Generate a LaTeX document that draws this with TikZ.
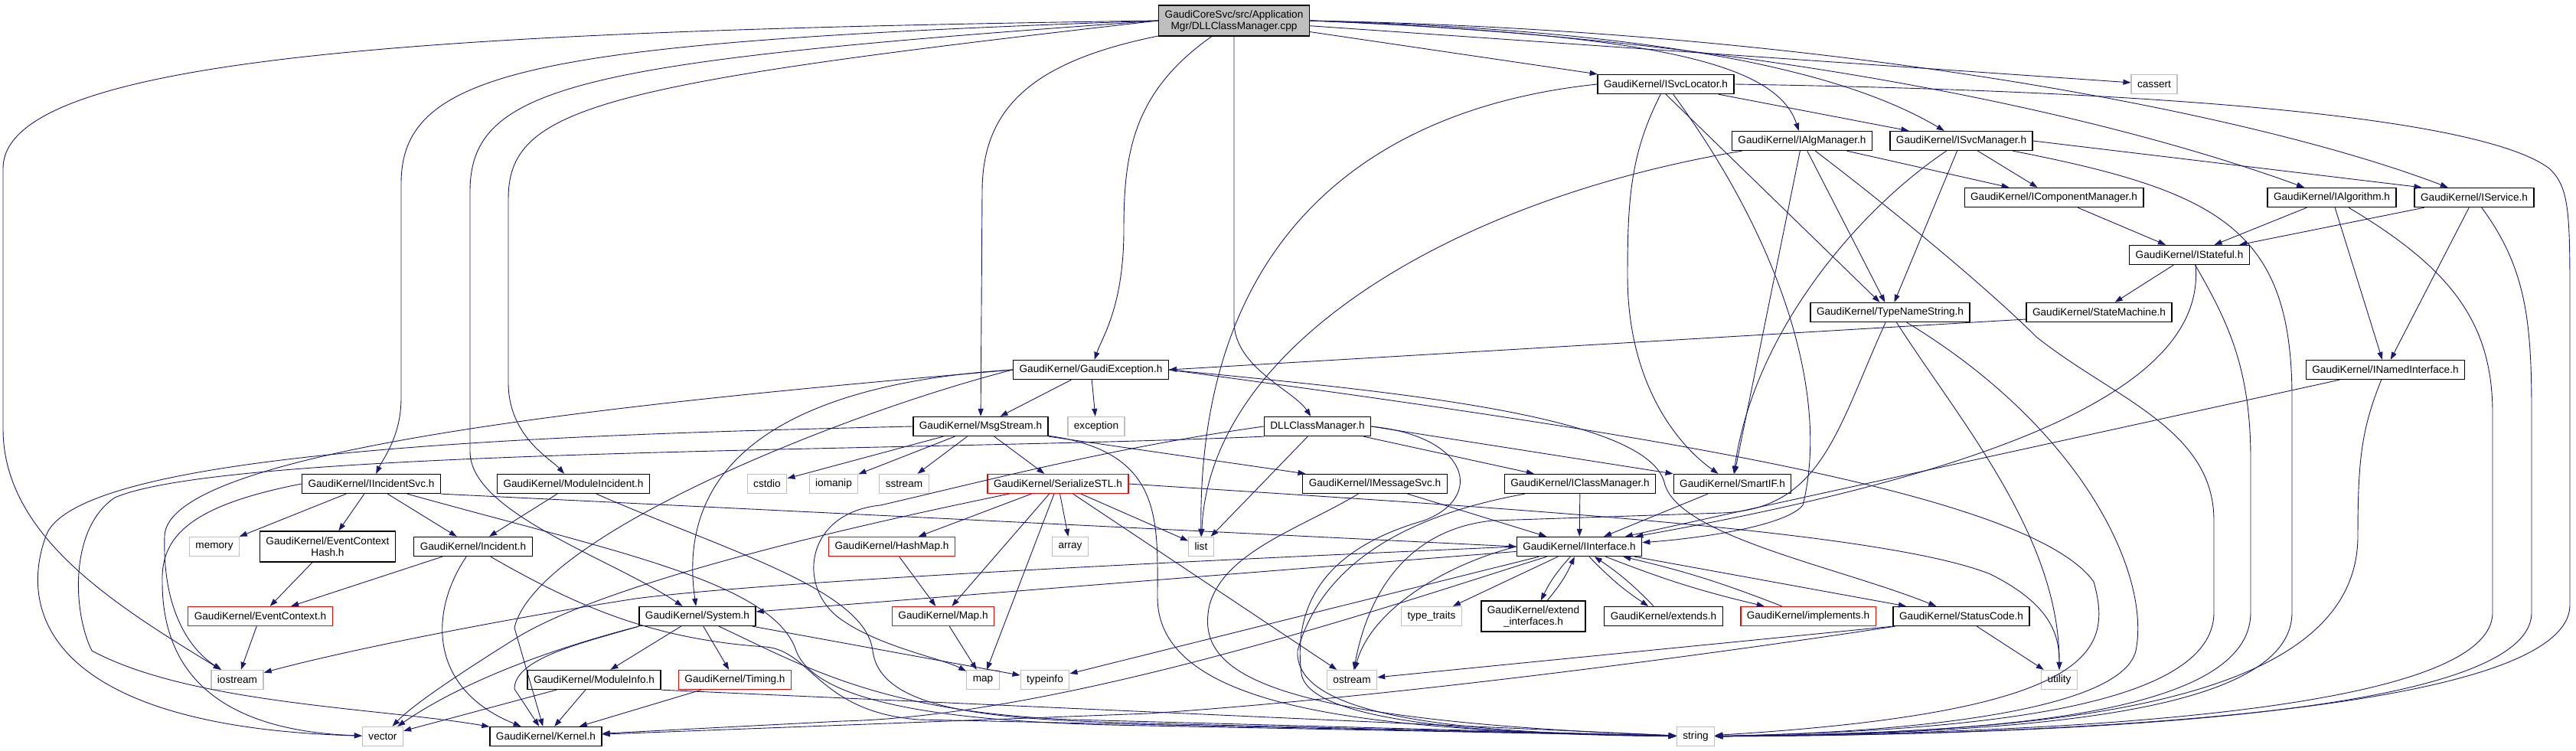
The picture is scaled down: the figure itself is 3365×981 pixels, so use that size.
\documentclass[tikz,border=0pt]{standalone}
\usepackage{fontspec}
\setmainfont{Liberation Sans}
\usetikzlibrary{arrows.meta}
\definecolor{edgeBlue}{HTML}{191970}
\definecolor{sysGray}{HTML}{BFBFBF}
\definecolor{cutRed}{HTML}{FF0000}
\tikzset{
  every node/.style={font=\fontsize{13.6}{15}\selectfont},
  hdr/.style={draw=black, line width=1.3pt, fill=white, minimum height=25pt,
              inner xsep=8pt, inner ysep=2pt, align=center},
  hdrRed/.style={hdr, draw=cutRed},
  hdrSys/.style={hdr, draw=sysGray},
  hdrTwo/.style={hdr, minimum height=40pt},
  hdrMain/.style={hdrTwo, fill=sysGray},
  arr/.style={-{Triangle[length=10pt, width=7pt]}, draw=edgeBlue, line width=0.9pt},
}

\begin{document}
\begin{tikzpicture}[x=1pt, y=-1pt]
  \useasboundingbox (0,0) rectangle (3365,981);
  % the source file
  \node[hdrMain] (root) at (1612,27) {GaudiCoreSvc/src/Application\\Mgr/DLLClassManager.cpp};
  % upper headers
  \node[hdr] (svcloc) at (2176,110) {GaudiKernel/ISvcLocator.h};
  \node[hdrSys] (cassert) at (2814,110) {cassert};
  \node[hdr] (algmgr) at (2354,184) {GaudiKernel/IAlgManager.h};
  \node[hdr] (svcmgr) at (2562,184) {GaudiKernel/ISvcManager.h};
  \node[hdr] (compmgr) at (2683,258) {GaudiKernel/IComponentManager.h};
  \node[hdr] (ialg) at (3046,258) {GaudiKernel/IAlgorithm.h};
  \node[hdr] (isvc) at (3232,258) {GaudiKernel/IService.h};
  \node[hdr] (stateful) at (2860,333) {GaudiKernel/IStateful.h};
  \node[hdr] (typename) at (2469,408) {GaudiKernel/TypeNameString.h};
  \node[hdr] (statemach) at (2742,408) {GaudiKernel/StateMachine.h};
  \node[hdr] (gexc) at (1425,483) {GaudiKernel/GaudiException.h};
  \node[hdr] (namedif) at (3116,483) {GaudiKernel/INamedInterface.h};
  \node[hdr] (msgstream) at (1281,557) {GaudiKernel/MsgStream.h};
  \node[hdrSys] (exception) at (1432,557) {exception};
  \node[hdr] (dllh) at (1721,557) {DLLClassManager.h};
  % middle rows
  \node[hdr] (incsvc) at (485,632) {GaudiKernel/IIncidentSvc.h};
  \node[hdr] (modinc) at (749,632) {GaudiKernel/ModuleIncident.h};
  \node[hdrSys] (cstdio) at (1002,632) {cstdio};
  \node[hdrSys] (iomanip) at (1089,632) {iomanip};
  \node[hdrSys] (sstream) at (1181,632) {sstream};
  \node[hdrRed] (serial) at (1382,632) {GaudiKernel/SerializeSTL.h};
  \node[hdr] (imsgsvc) at (1796,632) {GaudiKernel/IMessageSvc.h};
  \node[hdr] (iclassmgr) at (2064,632) {GaudiKernel/IClassManager.h};
  \node[hdr] (smartif) at (2263,632) {GaudiKernel/SmartIF.h};
  \node[hdrSys] (memory) at (280,714) {memory};
  \node[hdrTwo] (echash) at (428,714) {GaudiKernel/EventContext\\Hash.h};
  \node[hdr] (incident) at (618,714) {GaudiKernel/Incident.h};
  \node[hdrRed] (hashmap) at (1165,714) {GaudiKernel/HashMap.h};
  \node[hdrSys] (array) at (1398,714) {array};
  \node[hdrSys] (list) at (1569,714) {list};
  \node[hdr] (iinterface) at (2063,714) {GaudiKernel/IInterface.h};
  \node[hdrRed] (evctx) at (340,805) {GaudiKernel/EventContext.h};
  \node[hdr] (system) at (911,805) {GaudiKernel/System.h};
  \node[hdrRed] (gkmap) at (1232,805) {GaudiKernel/Map.h};
  \node[hdrSys] (typetraits) at (1870,805) {type\_traits};
  \node[hdrTwo] (extif) at (2003,805) {GaudiKernel/extend\\\_interfaces.h};
  \node[hdr] (extends) at (2173,805) {GaudiKernel/extends.h};
  \node[hdrRed] (implements) at (2362,805) {GaudiKernel/implements.h};
  \node[hdr] (statuscode) at (2562,805) {GaudiKernel/StatusCode.h};
  % bottom rows
  \node[hdrSys] (iostream) at (310,888) {iostream};
  \node[hdr] (modinfo) at (776,888) {GaudiKernel/ModuleInfo.h};
  \node[hdrRed] (timing) at (960,888) {GaudiKernel/Timing.h};
  \node[hdrSys] (stdmap) at (1284,888) {map};
  \node[hdrSys] (typeinfo) at (1365,888) {typeinfo};
  \node[hdrSys] (ostream) at (1766,888) {ostream};
  \node[hdrSys] (utility) at (2690,888) {utility};
  \node[hdrSys] (vector) at (500,962) {vector};
  \node[hdr] (kernel) at (713,962) {GaudiKernel/Kernel.h};
  \node[hdrSys] (string) at (2215,962) {string};

  % includes of the source file
  \draw[arr] (root) -- (svcloc);
  \draw[arr] (root) -- (cassert);
  \draw[arr] (root.east) .. controls (2150,45) and (2320,80) .. (algmgr);
  \draw[arr] (root.east) .. controls (2200,40) and (2420,100) .. (svcmgr);
  \draw[arr] (root.east) .. controls (2300,50) and (2750,150) .. (ialg);
  \draw[arr] (root.east) .. controls (2400,40) and (2950,150) .. (isvc);
  \draw[arr] (root) .. controls (1480,120) and (1468,200) .. (1468,300) .. controls (1468,400) and (1440,440) .. (gexc);
  \draw[arr] (root) .. controls (1350,80) and (1283,140) .. (1283,250) -- (msgstream);
  \draw[arr] (root) -- (1612,420) .. controls (1612,480) and (1690,510) .. (dllh);
  \draw[arr] (root.west) .. controls (700,55) and (524,90) .. (524,240) -- (524,520) .. controls (524,570) and (500,600) .. (incsvc);
  \draw[arr] (root.west) .. controls (780,110) and (664,140) .. (664,260) -- (664,500) .. controls (664,570) and (720,600) .. (modinc);
  \draw[arr] (root.west) .. controls (760,80) and (614,110) .. (614,250) -- (614,590) .. controls (614,670) and (800,730) .. (system);
  \draw[arr] (root.west) .. controls (600,40) and (4,70) .. (4,220) -- (4,560) .. controls (4,700) and (150,790) .. (iostream);

  % ISvcLocator.h
  \draw[arr] (svcloc) -- (svcmgr);
  \draw[arr] (svcloc.south) -- (typename);
  \draw[arr] (svcloc) .. controls (2130,200) and (2126,260) .. (2126,360) .. controls (2126,500) and (2190,580) .. (smartif);
  \draw[arr] (svcloc) .. controls (2330,320) and (2390,520) .. (2355,660) .. controls (2330,690) and (2200,705) .. (iinterface);
  \draw[arr] (svcloc.west) .. controls (1800,140) and (1565,300) .. (list);
  \draw[arr] (svcloc.east) .. controls (2900,120) and (3250,160) .. (3330,220) .. controls (3357,245) and (3357,280) .. (3357,400)
    -- (3357,790) .. controls (3357,930) and (2700,960) .. (string);
  % IAlgManager.h
  \draw[arr] (algmgr) -- (compmgr);
  \draw[arr] (algmgr) -- (typename);
  \draw[arr] (algmgr) -- (smartif);
  \draw[arr] (algmgr) .. controls (1900,260) and (1580,450) .. (list);
  \draw[arr] (algmgr) .. controls (2480,280) and (2600,380) .. (2660,440) .. controls (2760,520) and (2892,560) .. (2892,680)
    -- (2892,800) .. controls (2892,930) and (2550,955) .. (string);
  % ISvcManager.h
  \draw[arr] (svcmgr) -- (compmgr);
  \draw[arr] (svcmgr.east) -- ([xshift=10pt]isvc.north west);
  \draw[arr] (svcmgr) -- (typename);
  \draw[arr] (svcmgr) .. controls (2420,280) and (2290,440) .. (smartif);
  \draw[arr] (svcmgr) .. controls (2900,250) and (2994,300) .. (2994,520) -- (2994,800) .. controls (2994,940) and (2600,958) .. (string);
  % component and algorithm interfaces
  \draw[arr] (compmgr) -- (stateful);
  \draw[arr] (ialg) -- (stateful);
  \draw[arr] (ialg) -- (namedif);
  \draw[arr] (ialg) .. controls (3200,350) and (3256,420) .. (3256,540) -- (3256,800) .. controls (3256,935) and (2650,958) .. (string);
  \draw[arr] (isvc) -- (stateful);
  \draw[arr] (isvc) -- (namedif);
  \draw[arr] (isvc) .. controls (3300,350) and (3307,420) .. (3307,540) -- (3307,800) .. controls (3307,940) and (2650,960) .. (string);
  \draw[arr] (stateful) -- (statemach);
  \draw[arr] ([xshift=8pt]stateful.south) .. controls (2880,480) and (2700,600) .. (iinterface);
  \draw[arr] (stateful) .. controls (2910,420) and (2940,480) .. (2940,600) -- (2940,800) .. controls (2940,935) and (2600,958) .. (string);
  \draw[arr] ([yshift=-9pt]statemach.west) -- (gexc.east);
  % TypeNameString.h, INamedInterface.h
  \draw[arr] (typename) .. controls (2400,560) and (2380,665) .. (2250,670) -- (1950,680) .. controls (1850,690) and (1790,760) .. (ostream);
  \draw[arr] (typename) .. controls (2560,550) and (2690,700) .. (utility);
  \draw[arr] (typename) .. controls (2720,560) and (2810,750) .. (2790,850) .. controls (2770,935) and (2450,958) .. (string);
  \draw[arr] (namedif) -- (iinterface);
  \draw[arr] (namedif) .. controls (3085,560) and (3080,600) .. (3080,700) .. controls (3080,930) and (2650,957) .. (string);

  % GaudiException.h
  \draw[arr] (gexc) -- (msgstream);
  \draw[arr] (gexc) -- (exception);
  \draw[arr] (gexc.west) .. controls (1050,500) and (880,590) .. (system);
  \draw[arr] (gexc.west) .. controls (900,520) and (220,580) .. (215,700) .. controls (212,800) and (250,850) .. (iostream);
  \draw[arr] (gexc.west) .. controls (1100,540) and (700,700) .. (672,820) -- (kernel);
  \draw[arr] (gexc.east) .. controls (1800,510) and (2150,540) .. (2174,630) .. controls (2190,700) and (2400,740) .. (statuscode);
  \draw[arr] (gexc.east) .. controls (2100,560) and (2650,640) .. (2735,760) .. controls (2760,850) and (2740,930) .. (string);
  % MsgStream.h
  \draw[arr] (msgstream) -- (cstdio);
  \draw[arr] (msgstream) -- (iomanip);
  \draw[arr] (msgstream) -- (sstream);
  \draw[arr] (msgstream) -- (serial);
  \draw[arr] (msgstream.south east) -- (imsgsvc);
  \draw[arr] (msgstream) .. controls (1520,590) and (1512,680) .. (1512,780) .. controls (1512,930) and (1800,955) .. (string);
  \draw[arr] (msgstream.west) .. controls (700,568) and (100,590) .. (60,700) .. controls (20,810) and (80,950) .. (vector);
  % DLLClassManager.h
  \draw[arr] (dllh) -- (iclassmgr);
  \draw[arr] (dllh.east) -- (smartif.north west);
  \draw[arr] (dllh) -- (list);
  \draw[arr] (dllh.west) .. controls (1450,585) and (1280,630) .. (1150,660) .. controls (1050,670) and (1040,770) .. (1100,810)
    .. controls (1150,845) and (1230,860) .. (stdmap);
  \draw[arr] (dllh.south west) .. controls (1200,590) and (300,585) .. (150,650) .. controls (90,690) and (95,800) .. (120,850)
    .. controls (250,920) and (500,925) .. (kernel);
  \draw[arr] (dllh.east) .. controls (1920,570) and (1940,650) .. (1860,680) .. controls (1720,720) and (1690,800) .. (1700,880)
    .. controls (1710,950) and (2000,960) .. (string);

  % IIncidentSvc.h, ModuleIncident.h, Incident.h
  \draw[arr] (incsvc) -- (memory);
  \draw[arr] (incsvc) -- (echash);
  \draw[arr] (incsvc) -- (incident);
  \draw[arr] (incsvc.south east) -- (iinterface.west);
  \draw[arr] (incsvc.west) .. controls (250,660) and (210,700) .. (212,760) .. controls (212,890) and (300,955) .. (vector);
  \draw[arr] (incsvc) .. controls (800,720) and (1010,760) .. (1040,850) .. controls (1070,930) and (1300,945) .. (1500,948) -- (string);
  \draw[arr] (modinc) -- (incident);
  \draw[arr] (modinc) .. controls (950,720) and (1130,770) .. (1140,850) .. controls (1150,930) and (1300,940) .. (1500,945) -- (string);
  \draw[arr] (echash) -- (evctx);
  \draw[arr] (incident) -- (evctx);
  \draw[arr] (evctx) -- (iostream);
  \draw[arr] (incident) .. controls (560,800) and (560,900) .. (kernel);
  \draw[arr] (incident) .. controls (750,790) and (850,835) .. (1000,845) .. controls (1060,850) and (1070,930) .. (1200,940) -- (string);
  % IMessageSvc.h, IClassManager.h, SmartIF.h
  \draw[arr] (imsgsvc) -- (iinterface);
  \draw[arr] (imsgsvc) .. controls (1700,690) and (1600,720) .. (1580,790) .. controls (1560,880) and (1650,940) .. (string);
  \draw[arr] (iclassmgr) -- (iinterface);
  \draw[arr] (iclassmgr) .. controls (1800,680) and (1720,760) .. (1695,850) .. controls (1690,935) and (1900,958) .. (string);
  \draw[arr] (smartif) -- (iinterface);

  % IInterface.h
  \draw[arr] (iinterface) -- (typetraits);
  \draw[arr] (iinterface) to[bend right=8] (extif);
  \draw[arr] (extif) to[bend right=8] (iinterface);
  \draw[arr] (iinterface) to[bend right=6] (extends);
  \draw[arr] (extends) to[bend right=6] (iinterface);
  \draw[arr] (iinterface) to[bend right=4] (implements);
  \draw[arr] (implements) to[bend right=4] (iinterface);
  \draw[arr] (iinterface) -- (statuscode);
  \draw[arr] (iinterface.west) .. controls (1880,740) and (1790,800) .. (ostream);
  \draw[arr] (iinterface) -- (system);
  \draw[arr] (iinterface) -- (typeinfo);
  \draw[arr] (iinterface.west) .. controls (1500,735) and (1000,760) .. (830,782) .. controls (650,810) and (450,850) .. (iostream);
  \draw[arr] (iinterface) .. controls (1850,780) and (1400,935) .. (1100,942) -- (kernel);
  % StatusCode.h
  \draw[arr] (statuscode.south west) -- (ostream);
  \draw[arr] (statuscode) .. controls (2200,860) and (1800,912) .. (1500,932) -- (kernel);
  \draw[arr] (statuscode) -- (utility);

  % SerializeSTL.h
  \draw[arr] (serial) -- (hashmap);
  \draw[arr] (serial) -- (gkmap);
  \draw[arr] (serial) -- (stdmap);
  \draw[arr] (serial) -- (array);
  \draw[arr] (serial) -- (list);
  \draw[arr] (serial) -- (ostream);
  \draw[arr] (serial.east) .. controls (1900,660) and (2450,690) .. (2600,750) .. controls (2680,790) and (2690,830) .. (utility);
  \draw[arr] (serial) .. controls (1100,690) and (800,760) .. (680,830) .. controls (600,880) and (540,920) .. (vector);
  \draw[arr] (hashmap) -- (gkmap);
  \draw[arr] (gkmap) -- (stdmap);
  % System.h and below
  \draw[arr] (system) -- (modinfo);
  \draw[arr] (system) -- (timing);
  \draw[arr] (system) -- (typeinfo);
  \draw[arr] (system.south west) .. controls (750,840) and (620,880) .. (vector);
  \draw[arr] (system.south west) .. controls (760,840) and (672,860) .. (672,900) -- (kernel);
  \draw[arr] (system) .. controls (1050,870) and (1150,930) .. (1400,940) -- (string);
  \draw[arr] (modinfo) -- (kernel);
  \draw[arr] (modinfo) -- (vector);
  \draw[arr] (modinfo.south east) -- (string);
  \draw[arr] (timing) -- (kernel);
\end{tikzpicture}
\end{document}
